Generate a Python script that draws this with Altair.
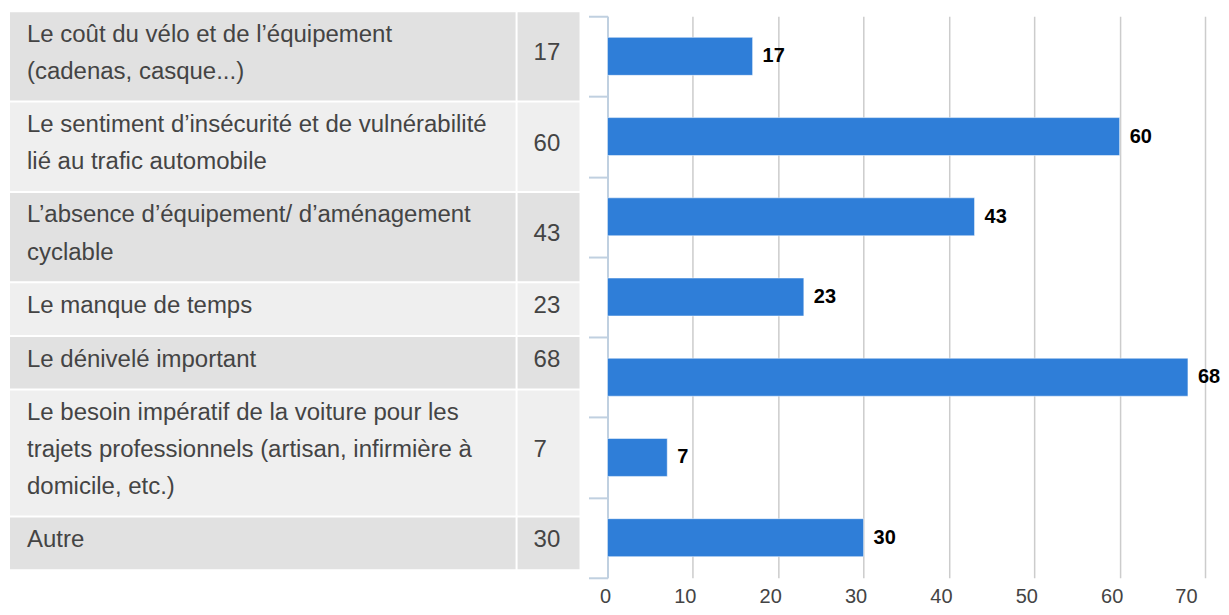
import altair as alt
import pandas as pd

# ---- data ----
categories = [
    "Le coût du vélo et de l’équipement\n(cadenas, casque...)",
    "Le sentiment d’insécurité et de vulnérabilité\nlié au trafic automobile",
    "L’absence d’équipement/ d’aménagement\ncyclable",
    "Le manque de temps",
    "Le dénivelé important",
    "Le besoin impératif de la voiture pour les\ntrajets professionnels (artisan, infirmière à\ndomicile, etc.)",
    "Autre",
]
values = [17, 60, 43, 23, 68, 7, 30]
x_ticks = [0, 10, 20, 30, 40, 50, 60, 70]

# ---- layout constants ----
TABLE_W = 570
ROW_BASE, LINE_PITCH, GAP = 17, 36.7, 2
LINE_H = 37.5
TOP_OVERHANG = 4          # table starts a little above the bar plot
LABEL_COL_END, VALUE_COL_START = 506, 508
FONT = "Liberation Sans"

n_lines = [c.count("\n") + 1 for c in categories]
tops, bottoms, text_y = [], [], []
pos = 0.0
for n in n_lines:
    h = ROW_BASE + LINE_PITCH * n
    tops.append(pos)
    bottoms.append(pos + h - GAP)
    mid = pos + (h - GAP) / 2
    text_y.append(mid - (n - 1) * LINE_H / 2)
    pos += h
TABLE_H = pos

df = pd.DataFrame({
    "label": categories,
    "value": values,
    "top": tops,
    "bottom": bottoms,
    "text_y": text_y,
    "mid": [(t + b) / 2 for t, b in zip(tops, bottoms)],
    "shade": ["dark" if i % 2 == 0 else "light" for i in range(len(categories))],
})

# ---- table ----
xs = alt.Scale(domain=[0, TABLE_W], nice=False, zero=False)
ys = alt.Scale(domain=[TOP_OVERHANG, TABLE_H + TOP_OVERHANG], nice=False, zero=False, reverse=True)
shade_color = alt.Color(
    "shade:N",
    scale=alt.Scale(domain=["dark", "light"], range=["#e1e1e1", "#efefef"]),
    legend=None,
)
tbase = alt.Chart(df)
rect_lab = tbase.mark_rect().encode(
    x=alt.datum(0, scale=xs, axis=None),
    x2=alt.datum(LABEL_COL_END),
    y=alt.Y("top:Q", scale=ys, axis=None),
    y2="bottom:Q",
    color=shade_color,
)
rect_val = tbase.mark_rect().encode(
    x=alt.datum(VALUE_COL_START, scale=xs, axis=None),
    x2=alt.datum(TABLE_W),
    y=alt.Y("top:Q", scale=ys, axis=None),
    y2="bottom:Q",
    color=shade_color,
)
txt_lab = tbase.mark_text(
    align="left", baseline="middle", lineBreak="\n", lineHeight=LINE_H,
    fontSize=24, font=FONT, color="#444444", dy=-3,
).encode(
    x=alt.datum(17, scale=xs, axis=None),
    y=alt.Y("text_y:Q", scale=ys, axis=None),
    text="label:N",
)
txt_val = tbase.mark_text(
    align="left", baseline="middle", fontSize=24, font=FONT, color="#444444", dy=-3,
).encode(
    x=alt.datum(524, scale=xs, axis=None),
    y=alt.Y("mid:Q", scale=ys, axis=None),
    text="value:Q",
)
table = alt.layer(rect_lab, rect_val, txt_lab, txt_val).properties(
    width=TABLE_W, height=TABLE_H
)

# ---- bar chart ----
y_enc = alt.Y(
    "label:N",
    sort=None,
    scale=alt.Scale(paddingInner=0, paddingOuter=0),
    axis=alt.Axis(
        labels=False, title=None, grid=False,
        domainColor="#c0d0e0", domainWidth=2,
        tickColor="#c0d0e0", tickWidth=2, tickSize=19, tickBand="extent",
    ),
)
x_enc = alt.X(
    "value:Q",
    scale=alt.Scale(domain=[0, 70], nice=False),
    axis=alt.Axis(
        values=x_ticks, title=None, domain=False, ticks=False, grid=True,
        gridColor=alt.condition("datum.value === 0", alt.value("#c0d0e0"), alt.value("#cccccc")),
        gridWidth=1.5, labelFontSize=20, labelColor="#444444", labelFont=FONT,
        labelPadding=9, labelOffset=-8,
    ),
)
bbase = alt.Chart(df).encode(y=y_enc, x=x_enc)
bars = bbase.mark_bar(size=38, color="#2f7ed8", stroke="#ffffff", strokeWidth=1, strokeOpacity=0.5)
blabels = bbase.mark_text(
    align="left", baseline="middle", dx=10, fontSize=20, fontWeight="bold",
    font=FONT, color="#000000",
).encode(text="value:Q")
barchart = alt.layer(bars, blabels).properties(width=598, height=562)

chart = (
    alt.hconcat(table, barchart, spacing=8)
    .properties(padding={"left": 2, "top": 4, "right": 0, "bottom": 0})
    .configure(font=FONT)
    .configure_view(strokeWidth=0, stroke="transparent")
)

chart.save("out.html", embed_options={"renderer": "svg", "actions": False})
